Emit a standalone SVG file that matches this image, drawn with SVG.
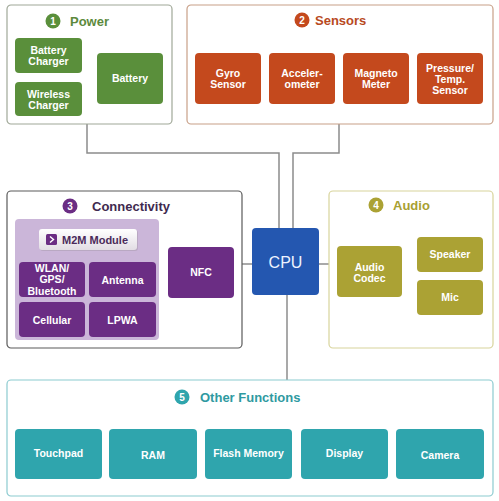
<svg xmlns="http://www.w3.org/2000/svg" width="499" height="501" viewBox="0 0 499 501">
<style>
text{font-family:"Liberation Sans",Arial,sans-serif;font-weight:bold;}
.lbl{font-size:10.5px;fill:#fff;text-anchor:middle;}
.ttl{font-size:13px;}
.num{font-size:10px;fill:#fff;text-anchor:middle;}
.grp{fill:#fff;stroke-width:1.2;}
.conn{fill:none;stroke:#8c8c8c;stroke-width:1.5;}
.g{fill:#5a8f3b;} .o{fill:#c4491d;} .p{fill:#6b2d84;} .y{fill:#aba234;} .t{fill:#2fa5ad;}
</style>
<defs>
<linearGradient id="btn" x1="0" y1="0" x2="0" y2="1">
<stop offset="0" stop-color="#ffffff"/>
<stop offset="1" stop-color="#e2dde4"/>
</linearGradient>
</defs>
<rect width="499" height="501" fill="#fff"/>

<g id="connectors">
<polyline class="conn" points="87,124 87,153 279,153 279,228"/>
<polyline class="conn" points="339,124 339,153 293,153 293,228"/>
<line class="conn" x1="242" y1="264" x2="252" y2="264"/>
<line class="conn" x1="319" y1="264" x2="337" y2="264"/>
<line class="conn" x1="287" y1="295" x2="287" y2="380"/>
<polyline class="conn" points="82,55 89,55 89,100 82,100"/>
<line class="conn" x1="89" y1="78" x2="97" y2="78"/>
<polyline class="conn" points="402,276 411,276"/>
<polyline class="conn" points="417,252 411,252 411,299 417,299"/>
</g>

<g id="power">
<rect class="grp" x="7" y="5" width="165" height="119" rx="4" stroke="#a0a898"/>
<circle cx="53" cy="21" r="7.5" fill="#5a8f3b"/>
<text class="num" x="53" y="24.5">1</text>
<text class="ttl" x="70" y="25.5" fill="#5c8a3c">Power</text>
<g id="battery-charger"><rect class="g" x="15" y="38" width="67" height="35" rx="4"/>
<text class="lbl" x="48.5" y="54">Battery</text><text class="lbl" x="48.5" y="65">Charger</text></g>
<g id="wireless-charger"><rect class="g" x="15" y="82" width="67" height="34" rx="4"/>
<text class="lbl" x="48.5" y="97.5">Wireless</text><text class="lbl" x="48.5" y="108.5">Charger</text></g>
<g id="battery"><rect class="g" x="97" y="53" width="66" height="51" rx="4"/>
<text class="lbl" x="130" y="82">Battery</text></g>
</g>

<g id="sensors">
<rect class="grp" x="187" y="5" width="306" height="119" rx="4" stroke="#c8a088"/>
<circle cx="302" cy="20" r="7.5" fill="#c4491d"/>
<text class="num" x="302" y="23.5">2</text>
<text class="ttl" x="315" y="24.5" fill="#b84a1e">Sensors</text>
<g id="gyro"><rect class="o" x="195" y="53" width="66" height="51" rx="4"/>
<text class="lbl" x="228" y="77">Gyro</text><text class="lbl" x="228" y="88">Sensor</text></g>
<g id="accel"><rect class="o" x="269" y="53" width="66" height="51" rx="4"/>
<text class="lbl" x="302" y="77">Acceler-</text><text class="lbl" x="302" y="88">ometer</text></g>
<g id="magneto"><rect class="o" x="343" y="53" width="66" height="51" rx="4"/>
<text class="lbl" x="376" y="77">Magneto</text><text class="lbl" x="376" y="88">Meter</text></g>
<g id="pressure"><rect class="o" x="417" y="53" width="66" height="51" rx="4"/>
<text class="lbl" x="450" y="72">Pressure/</text><text class="lbl" x="450" y="83">Temp.</text><text class="lbl" x="450" y="94">Sensor</text></g>
</g>

<g id="connectivity">
<rect class="grp" x="7" y="191" width="235" height="157" rx="4" stroke="#5a5a5a"/>
<circle cx="70" cy="206" r="7.5" fill="#6b2d84"/>
<text class="num" x="70" y="209.5">3</text>
<text class="ttl" x="92" y="210.5" fill="#3f2a4f">Connectivity</text>
<rect x="15" y="219" width="144" height="121" rx="4" fill="#cbb6d9"/>
<g id="m2m-module">
<rect x="40" y="230" width="98" height="21" rx="3" fill="#b9a8c2"/>
<rect x="39" y="229" width="98" height="21" rx="3" fill="url(#btn)"/>
<rect x="46" y="234" width="11" height="11" rx="1.5" fill="#6b2d84"/>
<polyline points="50,236.5 53.5,239.5 50,242.5" fill="none" stroke="#fff" stroke-width="1.4"/>
<text x="62" y="244" font-size="11" fill="#4a2a5a">M2M Module</text>
</g>
<g id="wlan"><rect class="p" x="19" y="262" width="66" height="35" rx="4"/>
<text class="lbl" x="52" y="272">WLAN/</text><text class="lbl" x="52" y="283">GPS/</text><text class="lbl" x="52" y="294.5">Bluetooth</text></g>
<g id="antenna"><rect class="p" x="89" y="262" width="67" height="35" rx="4"/>
<text class="lbl" x="122.5" y="284">Antenna</text></g>
<g id="cellular"><rect class="p" x="19" y="302" width="66" height="35" rx="4"/>
<text class="lbl" x="52" y="323.5">Cellular</text></g>
<g id="lpwa"><rect class="p" x="89" y="302" width="67" height="35" rx="4"/>
<text class="lbl" x="122.5" y="323.5">LPWA</text></g>
<g id="nfc"><rect class="p" x="168" y="247" width="66" height="51" rx="4"/>
<text class="lbl" x="201" y="276">NFC</text></g>
</g>

<g id="cpu">
<rect x="252" y="228" width="67" height="67" rx="4" fill="#2457b0"/>
<text x="285.5" y="267.5" font-size="16" font-weight="normal" fill="#eef3ff" text-anchor="middle" style="font-weight:normal">CPU</text>
</g>

<g id="audio">
<rect class="grp" x="329" y="191" width="164" height="157" rx="4" stroke="#d8d49c"/>
<circle cx="376" cy="205" r="7.5" fill="#aba234"/>
<text class="num" x="376" y="208.5">4</text>
<text class="ttl" x="393" y="209.5" fill="#a8a032">Audio</text>
<g id="audio-codec"><rect class="y" x="337" y="246" width="65" height="51" rx="4"/>
<text class="lbl" x="369.5" y="270.5">Audio</text><text class="lbl" x="369.5" y="281.5">Codec</text></g>
<g id="speaker"><rect class="y" x="417" y="237" width="66" height="35" rx="4"/>
<text class="lbl" x="450" y="257.5">Speaker</text></g>
<g id="mic"><rect class="y" x="417" y="280" width="66" height="35" rx="4"/>
<text class="lbl" x="450" y="301">Mic</text></g>
</g>

<g id="other-functions">
<rect class="grp" x="7" y="380" width="486" height="116" rx="4" stroke="#8ccbd0"/>
<circle cx="182" cy="397" r="7.5" fill="#2fa5ad"/>
<text class="num" x="182" y="400.5">5</text>
<text class="ttl" x="200" y="401.5" fill="#2f9aa1">Other Functions</text>
<g id="touchpad"><rect class="t" x="15" y="429" width="87" height="50" rx="4"/>
<text class="lbl" x="58.5" y="457">Touchpad</text></g>
<g id="ram"><rect class="t" x="109" y="429" width="88" height="50" rx="4"/>
<text class="lbl" x="153" y="459">RAM</text></g>
<g id="flash"><rect class="t" x="205" y="429" width="87" height="50" rx="4"/>
<text class="lbl" x="248.5" y="457">Flash Memory</text></g>
<g id="display"><rect class="t" x="301" y="429" width="87" height="50" rx="4"/>
<text class="lbl" x="344.5" y="457">Display</text></g>
<g id="camera"><rect class="t" x="396" y="429" width="88" height="50" rx="4"/>
<text class="lbl" x="440" y="459">Camera</text></g>
</g>
</svg>
